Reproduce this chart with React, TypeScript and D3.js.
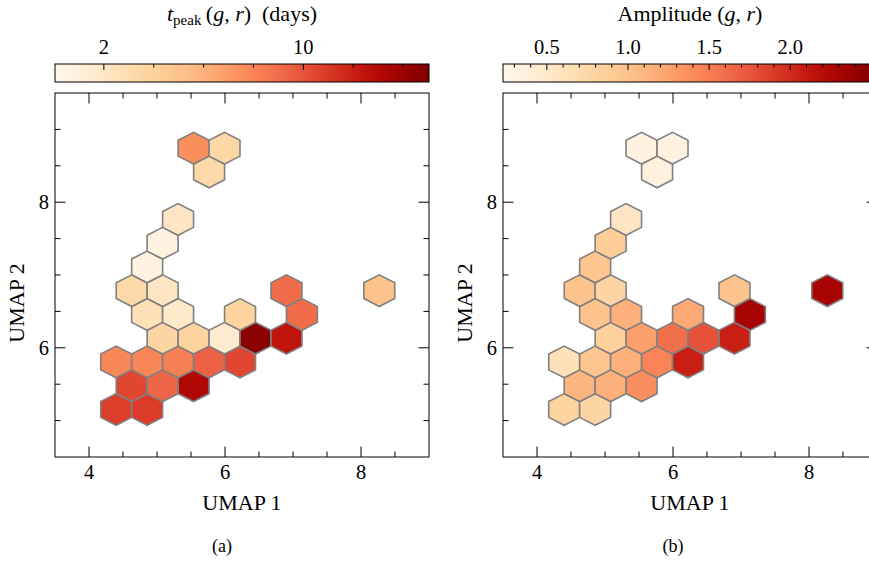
import React from 'react';
import * as d3 from 'd3';

// Hexbin cell centres (UMAP coordinates)
const hexUmap1 = [4.400, 4.855, 4.628, 5.083, 5.538, 4.400, 4.855, 5.310, 5.766, 6.221,
  5.083, 5.538, 5.993, 6.448, 6.904, 4.855, 5.310, 6.221, 7.131, 4.628,
  5.083, 6.904, 8.269, 4.855, 5.083, 5.310, 5.766, 5.538, 5.993];
const hexUmap2 = [5.153, 5.153, 5.479, 5.479, 5.479, 5.806, 5.806, 5.806, 5.806, 5.806,
  6.132, 6.132, 6.132, 6.132, 6.132, 6.458, 6.458, 6.458, 6.458, 6.785,
  6.785, 6.785, 6.785, 7.111, 7.437, 7.763, 8.416, 8.742, 8.742];
// Panel (a): t_peak (days)
const tPeak = [10.8, 10.9, 10.5, 9.3, 13.2, 7.8, 7.9, 8.1, 9.5, 10.5,
  3.6, 3.8, 1.5, 14.6, 12.5, 2.6, 1.7, 3.8, 9.0, 3.3,
  2.1, 9.0, 5.0, 0.6, 0.6, 2.0, 3.3, 7.5, 3.5];
// Panel (b): amplitude
const amplitude = [0.81, 0.79, 1.11, 1.15, 1.38, 0.62, 0.97, 1.15, 1.45, 2.07,
  0.85, 1.27, 1.59, 1.77, 2.07, 0.99, 1.15, 1.20, 2.30, 0.99,
  0.78, 0.99, 2.30, 0.97, 0.88, 0.53, 0.35, 0.32, 0.32];

const hexCellX = 0.4552; // hexbin cell width (UMAP 1 units)
const hexCellY = 0.6526; // hexbin lattice spacing (UMAP 2 units)

const xDomain = [3.5, 9];
const yDomain = [4.5, 9.5];
const xMajor = [4, 6, 8];
const xMinor = [4.5, 5, 5.5, 6.5, 7, 7.5, 8.5];
const yMajor = [6, 8];
const yMinor = [5, 5.5, 6.5, 7, 7.5, 8.5, 9];

const tpeakDomain = [0.04, 15.04];
const tpeakMajor = [2, 10];
const tpeakMinor = [4, 6, 8, 12, 14];
const ampDomain = [0.2296, 2.5347];
const ampMajor = [0.5, 1.0, 1.5, 2.0];
const ampMinor = [0.3, 0.4, 0.6, 0.7, 0.8, 0.9, 1.1, 1.2, 1.3, 1.4, 1.6, 1.7, 1.8, 1.9, 2.1, 2.2, 2.3, 2.4, 2.5];

const FONT = "'Liberation Serif', 'Times New Roman', serif";
const TICK_FS = 20.5;
const LABEL_FS = 22;

const AX_TOP = 93;
const AX_BOTTOM = 457;
const AX_W = 374;
const CB_TOP = 64;
const CB_BOTTOM = 82;

type PanelProps = {
  id: string;
  left: number;
  values: number[];
  cDomain: number[];
  cMajor: number[];
  cMinor: number[];
  fmt: (v: number) => string;
  cbLabel: React.ReactNode;
  caption: string;
  captionX: number;
  ylabelX: number;
};

function Panel(p: PanelProps) {
  const x = d3.scaleLinear().domain(xDomain).range([p.left, p.left + AX_W]);
  const y = d3.scaleLinear().domain(yDomain).range([AX_BOTTOM, AX_TOP]);
  const cb = d3.scaleLinear().domain(p.cDomain).range([p.left, p.left + AX_W]);
  const tNorm = d3.scaleLinear().domain(p.cDomain).range([0, 1]).clamp(true);
  const color = (v: number) => d3.interpolateOrRd(tNorm(v));

  const hexPath = (cx: number, cy: number) => {
    const offs = [[0.5, -0.5], [0.5, 0.5], [0, 1], [-0.5, 0.5], [-0.5, -0.5], [0, -1]];
    const pts = offs.map(([a, b]) => [x(cx + a * hexCellX), y(cy + b * hexCellY / 3)]);
    return d3.line()(pts as [number, number][]) + 'Z';
  };

  const gradId = 'grad-' + p.id;
  const stops = d3.range(0, 1.0001, 0.02);
  const MAJ = 10.5, MIN = 5.5;
  const clipId = 'clip-' + p.id;

  return (
    <g>
      <defs>
        <linearGradient id={gradId} x1="0" x2="1" y1="0" y2="0">
          {stops.map((s, i) => (
            <stop key={i} offset={s} stopColor={d3.interpolateOrRd(s)} />
          ))}
        </linearGradient>
        <clipPath id={clipId}>
          <rect x={p.left} y={AX_TOP} width={AX_W} height={AX_BOTTOM - AX_TOP} />
        </clipPath>
      </defs>
      {/* colorbar */}
      <rect x={p.left} y={CB_TOP} width={AX_W} height={CB_BOTTOM - CB_TOP} fill={`url(#${gradId})`} stroke="#000" strokeWidth={1} />
      {p.cMajor.map((v) => (
        <g key={'cM' + v}>
          <line x1={cb(v)} x2={cb(v)} y1={CB_TOP} y2={CB_TOP + 6} stroke="#000" strokeWidth={1} />
          <text x={cb(v)} y={54} textAnchor="middle" fontSize={TICK_FS} fontFamily={FONT}>{p.fmt(v)}</text>
        </g>
      ))}
      {p.cMinor.map((v) => (
        <line key={'cm' + v} x1={cb(v)} x2={cb(v)} y1={CB_TOP} y2={CB_TOP + 3.5} stroke="#000" strokeWidth={1} />
      ))}
      <text x={p.left + AX_W / 2} y={21} textAnchor="middle" fontSize={LABEL_FS} fontFamily={FONT}>{p.cbLabel}</text>

      {/* hexes */}
      <g clipPath={`url(#${clipId})`}>
        {p.values.map((v, i) => (
          <path key={i} d={hexPath(hexUmap1[i], hexUmap2[i])} fill={color(v)} stroke="#808080" strokeWidth={1.6} strokeLinejoin="miter" />
        ))}
      </g>

      {/* axes frame */}
      <rect x={p.left} y={AX_TOP} width={AX_W} height={AX_BOTTOM - AX_TOP} fill="none" stroke="#000" strokeWidth={1} />
      {xMajor.map((v) => (
        <g key={'xM' + v}>
          <line x1={x(v)} x2={x(v)} y1={AX_BOTTOM} y2={AX_BOTTOM - MAJ} stroke="#000" />
          <line x1={x(v)} x2={x(v)} y1={AX_TOP} y2={AX_TOP + MAJ} stroke="#000" />
          <text x={x(v)} y={479} textAnchor="middle" fontSize={TICK_FS} fontFamily={FONT}>{v}</text>
        </g>
      ))}
      {xMinor.map((v) => (
        <g key={'xm' + v}>
          <line x1={x(v)} x2={x(v)} y1={AX_BOTTOM} y2={AX_BOTTOM - MIN} stroke="#000" />
          <line x1={x(v)} x2={x(v)} y1={AX_TOP} y2={AX_TOP + MIN} stroke="#000" />
        </g>
      ))}
      {yMajor.map((v) => (
        <g key={'yM' + v}>
          <line x1={p.left} x2={p.left + MAJ} y1={y(v)} y2={y(v)} stroke="#000" />
          <line x1={p.left + AX_W} x2={p.left + AX_W - MAJ} y1={y(v)} y2={y(v)} stroke="#000" />
          <text x={p.left - 6} y={y(v) + 7} textAnchor="end" fontSize={TICK_FS} fontFamily={FONT}>{v}</text>
        </g>
      ))}
      {yMinor.map((v) => (
        <g key={'ym' + v}>
          <line x1={p.left} x2={p.left + MIN} y1={y(v)} y2={y(v)} stroke="#000" />
          <line x1={p.left + AX_W} x2={p.left + AX_W - MIN} y1={y(v)} y2={y(v)} stroke="#000" />
        </g>
      ))}
      <text x={p.left + AX_W / 2} y={510} textAnchor="middle" fontSize={LABEL_FS} fontFamily={FONT}>UMAP 1</text>
      <text transform={`translate(${p.ylabelX},303) rotate(-90)`} textAnchor="middle" fontSize={LABEL_FS} fontFamily={FONT}>UMAP 2</text>
      <text x={p.captionX} y={552} textAnchor="middle" fontSize={18} fontFamily={FONT}>{p.caption}</text>
    </g>
  );
}

export default function App() {
  const tLabel = (
    <>
      <tspan fontStyle="italic">t</tspan>
      <tspan fontSize={15} dy={4}>peak</tspan>
      <tspan dy={-4}>{'\u2009('}</tspan>
      <tspan fontStyle="italic">g</tspan>
      <tspan>{', '}</tspan>
      <tspan fontStyle="italic">r</tspan>
      <tspan>{')\u2002(days)'}</tspan>
    </>
  );
  const aLabel = (
    <>
      <tspan>{'Amplitude ('}</tspan>
      <tspan fontStyle="italic">g</tspan>
      <tspan>{', '}</tspan>
      <tspan fontStyle="italic">r</tspan>
      <tspan>{')'}</tspan>
    </>
  );
  return (
    <svg width={869} height={561} style={{ position: 'absolute', left: 0, top: 0, background: '#fff' }}>
      <rect x={0} y={0} width={869} height={561} fill="#fff" />
      <Panel id="a" left={55} values={tPeak} cDomain={tpeakDomain} cMajor={tpeakMajor} cMinor={tpeakMinor}
        fmt={(v) => String(v)} cbLabel={tLabel} caption="(a)" captionX={222} ylabelX={24} />
      <Panel id="b" left={503} values={amplitude} cDomain={ampDomain} cMajor={ampMajor} cMinor={ampMinor}
        fmt={d3.format('.1f')} cbLabel={aLabel} caption="(b)" captionX={673} ylabelX={472} />
    </svg>
  );
}
